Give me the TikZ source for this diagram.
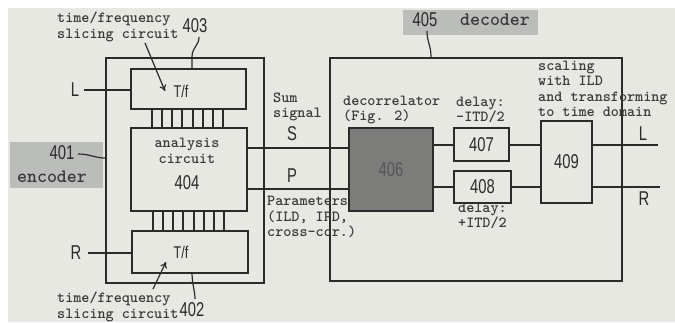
\documentclass[tikz,border=0pt]{standalone}
\usepackage{fontspec}
\usetikzlibrary{arrows.meta,calc}
\newfontfamily\nsans{Liberation Sans}[FakeStretch=0.74]
\definecolor{paper}{HTML}{E8E8E3}
\definecolor{ink}{HTML}{2B2B2B}
\definecolor{patch}{HTML}{BBBDBA}
\definecolor{dark}{HTML}{7C7D7B}
\definecolor{txt}{HTML}{3A3A3A}
\tikzset{
  box/.style={draw=ink,line width=2pt,inner sep=0pt,anchor=north west},
  sig/.style={draw=ink,line width=1.6pt},
  lead/.style={draw=ink,line width=1.2pt},
  mtext/.style={font=\ttfamily\bfseries\fontsize{15.4}{15.5}\selectfont,text=txt,align=left,inner sep=0pt,anchor=west},
  btext/.style={font=\ttfamily\bfseries\fontsize{19}{19}\selectfont,text=txt,inner sep=0pt},
  slab/.style={font=\nsans\fontsize{20}{20}\selectfont,text=ink,inner sep=0pt},
  stripe/.style={draw=ink,line width=1.3pt}
}
\begin{document}
\begin{tikzpicture}[x=1pt,y=-1pt]
\useasboundingbox (0,0) rectangle (675,322);
\fill[white] (0,0) rectangle (675,322);
\fill[paper] (8,8) rectangle (675,322);
% gray patches
\fill[patch] (10,142) rectangle (103,188);
\fill[patch] (403,10) rectangle (538,35);

% encoder
\node[box,minimum width=158pt,minimum height=225pt] (enc) at (105,57) {};
\node[box,minimum width=115pt,minimum height=40pt] (tf1) at (130,68) {};
\node[box,minimum width=116pt,minimum height=83pt] (ana) at (130,127) {};
\node[box,minimum width=116pt,minimum height=42pt] (tf2) at (131,230) {};
\node[slab,font=\nsans\fontsize{17}{17}\selectfont] (tf1t) at (181,91) {T/f};
\node[slab,font=\nsans\fontsize{17}{17}\selectfont] (tf2t) at (181,252) {T/f};
\node[mtext,anchor=center,align=center] (anat) at (187,151) {analysis\\circuit};
\node[slab] (l404) at (187,183) {404};
\foreach \x in {152,162,172,182,193,203,213,223}{
  \draw[stripe] (\x,108) -- (\x,127);
  \draw[stripe] (\x+1,210) -- (\x+1,230);
}
% inputs
\node[slab] (Lin) at (75,90) {L};
\node[slab] (Rin) at (76,253) {R};
\draw[sig] (Lin.east) ++(5,0) coordinate (lia) -- (lia -| tf1.west);
\draw[sig] (Rin.east) ++(6,0) coordinate (ria) -- (ria -| tf2.west);

% labels encoder
\node[mtext] (tfa) at (57,27) {time/frequency\\slicing circuit};
\node[slab] (l403) at (195,26) {403};
\coordinate (a1s) at (145,43);
\coordinate (a1e) at (165,91);
\draw[lead,-{To[length=6pt,width=7pt]}] (a1s) -- (a1e);
\coordinate (c403) at (192,57);
\draw[lead] (199,37) .. controls (199,46) and (192,47) .. (c403) -- (c403 |- tf1.north);

\node[mtext] (tfb) at (57,307) {time/frequency\\slicing circuit};
\node[slab] (l402) at (192,310) {402};
\coordinate (a2s) at (153,289);
\coordinate (a2e) at (166,262);
\draw[lead,-{To[length=6pt,width=7pt]}] (a2s) -- (a2e);
\coordinate (c402) at (192,272);
\draw[lead] (195,299) .. controls (195,290) and (192,285) .. (c402);

\node[slab] (l401) at (62,153) {401};
\node[btext] (encl) at (52,177) {encoder};
\draw[lead] (78,154) .. controls (90,154) and (95,158) .. (105,158);

% decoder
\node[box,minimum width=292pt,minimum height=223pt] (dec) at (329,57) {};
\node[slab] (l405) at (425,20) {405};
\node[btext] (decl) at (495,20) {decoder};
\draw[lead] (427,31) .. controls (427,42) and (431,45) .. (431,57);

\node[box,fill=dark,minimum width=84pt,minimum height=83pt] (d406) at (348,127) {};
\node[slab,text=ink!80] at (d406.center) {406};
\node[box,minimum width=55pt,minimum height=33pt] (d407) at (453,127) {};
\node[slab] at (d407.center) {407};
\node[box,minimum width=57pt,minimum height=32pt] (d408) at (453,170) {};
\node[slab] at (d408.center) {408};
\node[box,minimum width=51pt,minimum height=82pt] (d409) at (540,120) {};
\node[slab] at (d409.center) {409};

% signal lines
\coordinate (sy) at (0,148);
\coordinate (py) at (0,189);
\draw[sig] (sy -| ana.east) -- (sy -| d406.west);
\draw[sig] (py -| ana.east) -- (py -| d406.west);
\coordinate (y7) at (0,145);
\coordinate (y8) at (0,187);
\draw[sig] (y7 -| d406.east) -- (y7 -| d407.west);
\draw[sig] (y8 -| d406.east) -- (y8 -| d408.west);
\draw[sig] (y7 -| d407.east) -- (y7 -| d409.west);
\draw[sig] (y8 -| d408.east) -- (y8 -| d409.west);
\coordinate (Lout) at (658,145);
\coordinate (Rout) at (660,187);
\draw[sig] (Lout -| d409.east) -- (Lout);
\draw[sig] (Rout -| d409.east) -- (Rout);
\node[slab] (Loutl) at (643,134) {L};
\node[slab] (Routl) at (644,199) {R};

% texts
\node[mtext] (sumt) at (273,107) {Sum\\signal};
\node[slab] (St) at (292,134) {S};
\node[slab] (Pt) at (292,176) {P};
\node[mtext] (part) at (267,217) {Parameters\\(ILD, IPD,\\cross-cor.)};
\node[mtext] (decor) at (343,110) {decorrelator\\(Fig. 2)};
\node[mtext] (dl1) at (456,110) {delay:\\-ITD/2};
\node[mtext] (dl2) at (458,216) {delay:\\+ITD/2};
\node[mtext] (scal) at (538,89) {scaling\\with ILD\\and transforming\\to time domain};
\end{tikzpicture}
\end{document}
